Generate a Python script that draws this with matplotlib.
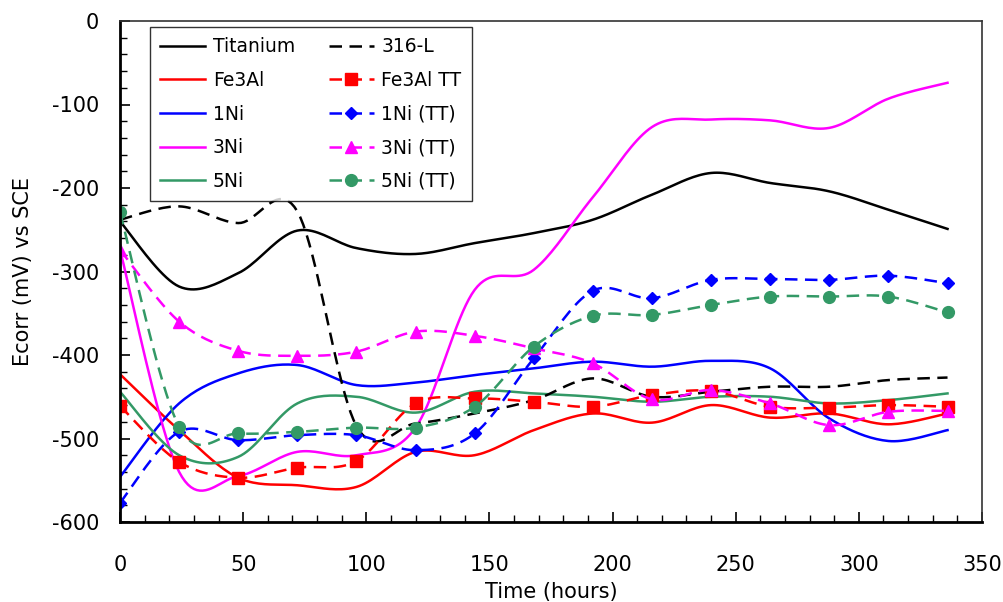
import numpy as np
import matplotlib
matplotlib.use('Agg')
import matplotlib.pyplot as plt
from matplotlib.ticker import MultipleLocator

hours = [0, 24, 48, 72, 96, 120, 144, 168, 192, 216, 240, 264, 288, 312, 336]

titanium = [-240, -318, -302, -251, -272, -279, -266, -254, -238, -208, -182, -194, -204, -226, -249]
ss316l = [-238, -222, -242, -228, -485, -482, -470, -454, -428, -450, -444, -438, -438, -430, -427]
fe3al = [-423, -490, -547, -556, -558, -516, -520, -490, -470, -481, -460, -475, -470, -483, -470]
fe3al_tt = [-461, -528, -547, -535, -527, -458, -452, -456, -462, -448, -443, -462, -463, -460, -462]
ni1 = [-546, -458, -422, -412, -436, -433, -424, -416, -408, -414, -407, -416, -476, -503, -490]
ni1_tt = [-577, -492, -502, -496, -496, -514, -494, -404, -323, -332, -310, -309, -310, -305, -314]
ni3 = [-274, -540, -545, -516, -520, -487, -322, -298, -211, -127, -118, -119, -128, -93, -74]
ni3_tt = [-274, -360, -395, -401, -396, -372, -377, -392, -410, -453, -442, -458, -484, -468, -467]
ni5 = [-444, -520, -522, -458, -450, -469, -444, -446, -450, -456, -450, -450, -458, -454, -446]
ni5_tt = [-229, -486, -494, -492, -487, -487, -462, -390, -353, -352, -340, -330, -330, -330, -349]

GREEN = '#339966'
N = 20


def smooth(x, y, n=N):
    P = np.column_stack([np.asarray(x, float), np.asarray(y, float)])
    E = np.vstack([P[0], P, P[-1]])
    out = []
    t = np.linspace(0, 1, n, endpoint=False)[:, None]
    for i in range(len(P) - 1):
        p0, p1, p2, p3 = E[i], E[i + 1], E[i + 2], E[i + 3]
        c1 = p1 + (p2 - p0) / 6
        c2 = p2 - (p3 - p1) / 6
        seg = (1 - t) ** 3 * p1 + 3 * (1 - t) ** 2 * t * c1 + 3 * (1 - t) * t ** 2 * c2 + t ** 3 * p2
        out.append(seg)
    out.append(P[-1][None, :])
    a = np.vstack(out)
    return a[:, 0], a[:, 1]


plt.rcParams['font.family'] = ['DejaVu Sans']
plt.rcParams['axes.unicode_minus'] = False
fig = plt.figure(figsize=(10.04, 6.02), dpi=100)
ax = fig.add_axes([120 / 1004, 1 - 522 / 602, 862 / 1004, 501 / 602])

DASH = (0, (5, 3))
LW = 1.8
series = [
    ('Titanium', titanium, 'black', '-', None, 0),
    ('Fe3Al', fe3al, 'red', '-', None, 0),
    ('1Ni', ni1, 'blue', '-', None, 0),
    ('3Ni', ni3, 'magenta', '-', None, 0),
    ('5Ni', ni5, GREEN, '-', None, 0),
    ('316-L', ss316l, 'black', DASH, None, 0),
    ('Fe3Al TT', fe3al_tt, 'red', DASH, 's', 9),
    ('1Ni (TT)', ni1_tt, 'blue', DASH, 'D', 6.5),
    ('3Ni (TT)', ni3_tt, 'magenta', DASH, '^', 9),
    ('5Ni (TT)', ni5_tt, GREEN, DASH, 'o', 8.5),
]

handles = []
for name, vals, col, ls, mk, ms in series:
    xs, ys = smooth(hours, vals)
    kw = {}
    if mk:
        kw = dict(marker=mk, markersize=ms, markevery=list(range(0, len(xs), N)),
                  markerfacecolor=col, markeredgecolor=col)
    h, = ax.plot(xs, ys, color=col, linestyle=ls, lw=LW, label=name, **kw)
    handles.append(h)

ax.set_xlim(0, 350)
ax.set_ylim(-600, 0)
ax.xaxis.set_major_locator(MultipleLocator(50))
ax.xaxis.set_minor_locator(MultipleLocator(10))
ax.yaxis.set_major_locator(MultipleLocator(100))
ax.yaxis.set_minor_locator(MultipleLocator(20))
ax.tick_params(axis='both', which='both', direction='in', top=False, right=False, labelsize=15)
ax.tick_params(axis='both', which='major', length=7, width=1.2)
ax.tick_params(axis='both', which='minor', length=5, width=1.0)
ax.tick_params(axis='x', which='major', pad=24)
ax.tick_params(axis='y', which='major', pad=15)

for s in ['left', 'bottom']:
    ax.spines[s].set_linewidth(2)
    ax.spines[s].set_color('black')
for s in ['top', 'right']:
    ax.spines[s].set_linewidth(1.2)
    ax.spines[s].set_color('#333333')

ax.set_xlabel('Time (hours)', fontsize=15)
ax.set_ylabel('Ecorr (mV) vs SCE', fontsize=15)
ax.xaxis.set_label_coords(0.5, (522 - 582) / 501)
ax.yaxis.set_label_coords((33 - 120) / 862, 0.5)

leg = ax.legend(handles=handles, ncol=2, loc='upper left', bbox_to_anchor=(0.035, 0.988),
                fontsize=13.5, frameon=True, fancybox=False, handlelength=2.4,
                labelspacing=0.78, columnspacing=1.8, borderpad=0.55, handletextpad=0.4,
                borderaxespad=0)
leg.get_frame().set_edgecolor('black')
leg.get_frame().set_linewidth(1.0)

fig.savefig('out.png', dpi=100)
